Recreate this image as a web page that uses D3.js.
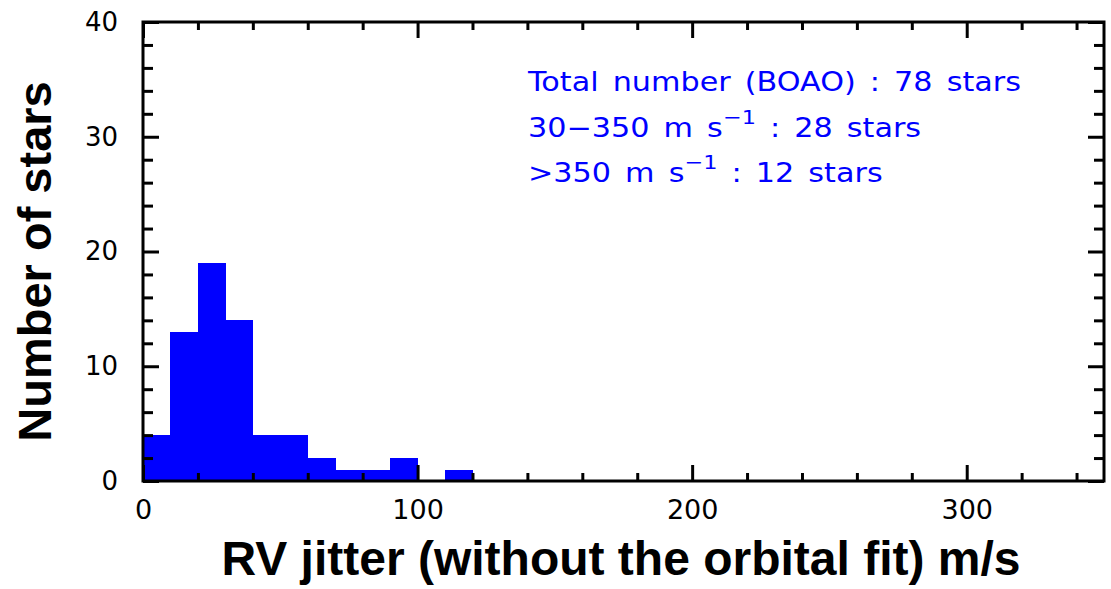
<!DOCTYPE html>
<html>
<head>
<meta charset="utf-8">
<script src="https://cdn.jsdelivr.net/npm/d3@7/dist/d3.min.js"></script>
<style>
  html, body { margin: 0; padding: 0; background: #fff; }
  svg { display: block; }
</style>
</head>
<body>
<svg id="chart" width="1111" height="589"></svg>
<script>
// Histogram of RV jitter (10 m/s bins)
const binStarts = [0, 10, 20, 30, 40, 50, 60, 70, 80, 90, 100, 110];
const binWidth = 10;
const counts = [4, 13, 19, 14, 4, 4, 2, 1, 1, 2, 0, 1];

const xMajorTicks = [0, 100, 200, 300];
const yMajorTicks = [0, 10, 20, 30, 40];

const xTitle = "RV jitter (without the orbital fit) m/s";
const yTitle = "Number of stars";

const noteLines = [
  { text: "Total number (BOAO) : 78 stars" },
  { pre: "30\u2212350 m s", sup: "\u22121", post: " : 28 stars" },
  { pre: ">350 m s", sup: "\u22121", post: " : 12 stars" }
];

const W = 1111, H = 589;
const margin = { left: 143, right: 7, top: 22, bottom: 108 };

const svg = d3.select("#chart");

const x = d3.scaleLinear().domain([0, 350]).range([margin.left, W - margin.right]);
const y = d3.scaleLinear().domain([0, 40]).range([H - margin.bottom, margin.top]);

const blue = "#0000ff";
const labelFont = "'DejaVu Sans', sans-serif";
const titleFont = "'Liberation Sans', Arial, Helvetica, sans-serif";

// bars
svg.append("g")
  .attr("shape-rendering", "crispEdges")
  .selectAll("rect")
  .data(binStarts.map((s, i) => ({ s, c: counts[i] })).filter(d => d.c > 0))
  .join("rect")
  .attr("x", d => x(d.s))
  .attr("width", d => x(d.s + binWidth) - x(d.s) + 0.5)
  .attr("y", d => y(d.c))
  .attr("height", d => y(0) - y(d.c))
  .attr("fill", blue);

// axes with inward ticks
const majorLen = 16, minorLenX = 8, minorLenY = 10;
const xMinor = d3.range(0, 351, 20).filter(v => !xMajorTicks.includes(v));
const yMinor = d3.range(0, 41, 2).filter(v => !yMajorTicks.includes(v));

const axisStyle = g => {
  g.select(".domain").remove();
  g.selectAll(".tick line").attr("stroke", "#000").attr("stroke-width", 3);
};

// bottom
svg.append("g").attr("transform", `translate(0,${y(0)})`)
  .call(d3.axisBottom(x).tickValues(xMajorTicks).tickSizeInner(-majorLen).tickSizeOuter(0).tickFormat(d3.format("d")).tickPadding(19))
  .call(axisStyle)
  .call(g => g.selectAll(".tick text")
    .attr("font-family", labelFont).attr("font-size", 27).attr("fill", "#000"));
svg.append("g").attr("transform", `translate(0,${y(0)})`)
  .call(d3.axisBottom(x).tickValues(xMinor).tickSizeInner(-minorLenX).tickSizeOuter(0).tickFormat(""))
  .call(axisStyle);

// top
svg.append("g").attr("transform", `translate(0,${y(40)})`)
  .call(d3.axisTop(x).tickValues(xMajorTicks).tickSizeInner(-majorLen).tickSizeOuter(0).tickFormat(""))
  .call(axisStyle);
svg.append("g").attr("transform", `translate(0,${y(40)})`)
  .call(d3.axisTop(x).tickValues(xMinor).tickSizeInner(-minorLenX).tickSizeOuter(0).tickFormat(""))
  .call(axisStyle);

// left
svg.append("g").attr("transform", `translate(${x(0)},0)`)
  .call(d3.axisLeft(y).tickValues(yMajorTicks).tickSizeInner(-majorLen).tickSizeOuter(0).tickFormat(d3.format("d")).tickPadding(25))
  .call(axisStyle)
  .call(g => g.selectAll(".tick text")
    .attr("font-family", labelFont).attr("font-size", 26).attr("fill", "#000"));
svg.append("g").attr("transform", `translate(${x(0)},0)`)
  .call(d3.axisLeft(y).tickValues(yMinor).tickSizeInner(-minorLenY).tickSizeOuter(0).tickFormat(""))
  .call(axisStyle);

// right
svg.append("g").attr("transform", `translate(${x(350)},0)`)
  .call(d3.axisRight(y).tickValues(yMajorTicks).tickSizeInner(-majorLen).tickSizeOuter(0).tickFormat(""))
  .call(axisStyle);
svg.append("g").attr("transform", `translate(${x(350)},0)`)
  .call(d3.axisRight(y).tickValues(yMinor).tickSizeInner(-minorLenY).tickSizeOuter(0).tickFormat(""))
  .call(axisStyle);

// frame
svg.append("rect")
  .attr("x", x(0)).attr("y", y(40))
  .attr("width", x(350) - x(0)).attr("height", y(0) - y(40))
  .attr("fill", "none").attr("stroke", "#000").attr("stroke-width", 3);

// axis titles
svg.append("text")
  .attr("x", 621).attr("y", 575)
  .attr("text-anchor", "middle")
  .attr("font-family", titleFont).attr("font-weight", "bold").attr("font-size", 48)
  .attr("fill", "#000")
  .text(xTitle);

svg.append("text")
  .attr("transform", `translate(51,${(y(0) + y(40)) / 2 + 10}) rotate(-90)`)
  .attr("text-anchor", "middle")
  .attr("font-family", titleFont).attr("font-weight", "bold").attr("font-size", 47)
  .attr("fill", "#000")
  .text(yTitle);

// annotation (slightly widened lettering)
const note = svg.append("g")
  .attr("transform", "translate(528,0) scale(1.12,1)")
  .attr("font-family", labelFont).attr("font-size", 27)
  .attr("word-spacing", 4)
  .attr("fill", blue);
const noteBase = [91, 137, 182];
noteLines.forEach((ln, i) => {
  const t = note.append("text").attr("x", 0).attr("y", noteBase[i]);
  if (ln.text) { t.text(ln.text); return; }
  t.append("tspan").text(ln.pre);
  t.append("tspan").attr("dy", -13).attr("font-size", 20).text(ln.sup);
  t.append("tspan").attr("dy", 13).text(ln.post);
});
</script>
</body>
</html>
